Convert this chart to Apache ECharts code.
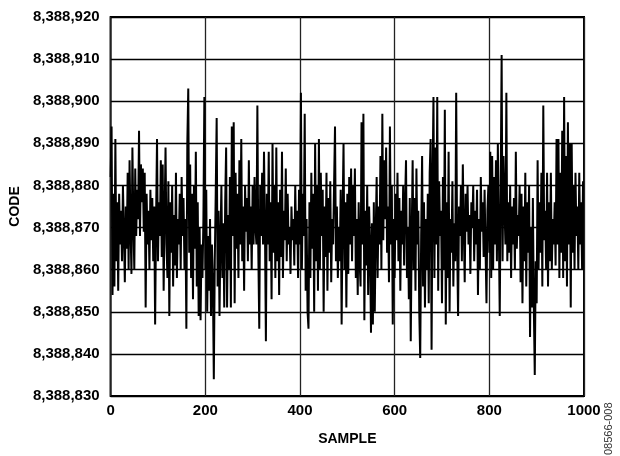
<!DOCTYPE html>
<html>
<head>
<meta charset="utf-8">
<script src="https://cdn.jsdelivr.net/npm/echarts@6/dist/echarts.min.js"></script>
<style>
html,body{margin:0;padding:0;background:#fff;}
#chart{width:620px;height:456px;}
</style>
</head>
<body>
<div id="chart"></div>
<script>
// Sample spacing of stored readings (every 2nd sample)
const sampleStep = 2;
const xTicks = [0, 200, 400, 600, 800, 1000];
const yTicks = [8388830, 8388840, 8388850, 8388860, 8388870, 8388880, 8388890, 8388900, 8388910, 8388920];
const codes = [
// 0-98
8388882,8388894,8388854,8388878,8388856,8388891,8388862,8388876,8388855,8388878,
8388866,8388874,8388862,8388880,8388869,8388857,8388875,8388865,8388883,8388860,
8388886,8388870,8388859,8388889,8388872,8388860,8388884,8388868,8388879,8388872,
8388893,8388868,8388885,8388876,8388884,8388869,8388883,8388851,8388878,8388866,
8388874,8388860,8388879,8388867,8388877,8388862,8388875,8388847,8388872,8388891,
// 100-198
8388862,8388876,8388868,8388886,8388863,8388885,8388855,8388873,8388889,8388866,
8388858,8388881,8388849,8388876,8388864,8388880,8388856,8388873,8388861,8388883,
8388858,8388872,8388866,8388878,8388860,8388882,8388868,8388877,8388860,8388872,
8388846,8388890,8388903,8388864,8388885,8388858,8388878,8388853,8388880,8388865,
8388888,8388856,8388876,8388849,8388870,8388848,8388866,8388858,8388872,8388901,
// 200-298
8388860,8388879,8388850,8388868,8388855,8388872,8388849,8388866,8388857,8388834,
8388862,8388878,8388896,8388856,8388874,8388849,8388867,8388880,8388858,8388871,
8388851,8388876,8388889,8388851,8388873,8388860,8388882,8388851,8388894,8388868,
8388895,8388852,8388883,8388865,8388878,8388858,8388886,8388866,8388891,8388862,
8388875,8388855,8388880,8388869,8388877,8388862,8388886,8388866,8388875,8388860,
// 300-398
8388880,8388866,8388882,8388870,8388866,8388899,8388864,8388846,8388880,8388868,
8388883,8388866,8388888,8388870,8388843,8388878,8388866,8388888,8388862,8388876,
8388853,8388890,8388864,8388880,8388858,8388889,8388862,8388876,8388854,8388879,
8388863,8388888,8388858,8388874,8388867,8388884,8388862,8388878,8388866,8388870,
8388859,8388875,8388867,8388872,8388861,8388880,8388866,8388874,8388858,8388879,
// 400-498
8388866,8388902,8388860,8388878,8388868,8388897,8388855,8388872,8388850,8388846,
8388876,8388858,8388883,8388865,8388878,8388850,8388890,8388862,8388880,8388855,
8388891,8388860,8388883,8388868,8388879,8388850,8388875,8388863,8388883,8388855,
8388877,8388864,8388881,8388857,8388872,8388866,8388880,8388894,8388862,8388875,
8388858,8388870,8388862,8388879,8388847,8388873,8388890,8388860,8388876,8388851,
// 500-598
8388878,8388859,8388882,8388866,8388884,8388862,8388880,8388868,8388884,8388858,
8388872,8388854,8388876,8388862,8388856,8388895,8388866,8388897,8388848,8388874,
8388861,8388880,8388854,8388875,8388866,8388845,8388871,8388847,8388876,8388850,
8388869,8388882,8388858,8388875,8388866,8388887,8388860,8388897,8388867,8388886,
8388872,8388889,8388864,8388875,8388857,8388894,8388866,8388880,8388847,8388872,
// 600-698
8388858,8388878,8388867,8388883,8388862,8388877,8388855,8388874,8388866,8388880,
8388861,8388876,8388886,8388858,8388870,8388853,8388877,8388843,8388868,8388886,
8388860,8388877,8388855,8388884,8388866,8388874,8388850,8388839,8388868,8388887,
8388856,8388876,8388851,8388872,8388860,8388878,8388852,8388883,8388891,8388841,
8388880,8388901,8388858,8388889,8388866,8388901,8388855,8388881,8388868,8388874,
// 700-798
8388852,8388882,8388860,8388898,8388847,8388876,8388858,8388888,8388850,8388872,
8388864,8388881,8388856,8388871,8388862,8388902,8388866,8388849,8388875,8388868,
8388880,8388862,8388885,8388870,8388857,8388878,8388869,8388880,8388866,8388873,
8388859,8388876,8388870,8388880,8388862,8388874,8388866,8388879,8388854,8388872,
8388860,8388882,8388869,8388876,8388863,8388879,8388865,8388852,8388874,8388880,
// 800-898
8388864,8388888,8388858,8388887,8388860,8388882,8388866,8388886,8388862,8388890,
8388870,8388849,8388880,8388911,8388862,8388887,8388875,8388866,8388902,8388862,
8388876,8388864,8388880,8388858,8388875,8388866,8388877,8388860,8388888,8388865,
8388873,8388868,8388880,8388857,8388878,8388852,8388875,8388862,8388883,8388856,
8388876,8388864,8388880,8388844,8388870,8388851,8388877,8388851,8388835,8388862,
// 900-998
8388852,8388886,8388860,8388876,8388864,8388883,8388856,8388899,8388867,8388874,
8388860,8388883,8388856,8388876,8388862,8388883,8388860,8388872,8388866,8388876,
8388861,8388891,8388866,8388891,8388858,8388883,8388864,8388893,8388858,8388901,
8388862,8388887,8388856,8388895,8388866,8388890,8388851,8388890,8388864,8388880,
8388860,8388883,8388868,8388875,8388860,8388883,8388866,8388876,8388860,8388881
];

const fmt = v => String(v).replace(/\B(?=(\d{3})+(?!\d))/g, ',');
const seriesData = codes.map((v, i) => [i * sampleStep, v]);

const chart = echarts.init(document.getElementById('chart'));
const labelFont = {fontFamily: 'Liberation Sans, Arial, sans-serif', fontWeight: 'bold', fontSize: 15, color: '#000'};
chart.setOption({
  animation: false,
  backgroundColor: '#fff',
  grid: {left: 107, right: 36, top: 17, bottom: 60, show: true, borderColor: '#000', borderWidth: 2},
  xAxis: {
    type: 'value', min: xTicks[0], max: xTicks[xTicks.length - 1], interval: 200,
    name: 'SAMPLE', nameLocation: 'middle', nameGap: 36,
    nameTextStyle: Object.assign({}, labelFont, {fontSize: 14}),
    axisLine: {show: false}, axisTick: {show: false},
    axisLabel: Object.assign({}, labelFont, {margin: 7, formatter: v => String(v)}),
    splitLine: {show: true, lineStyle: {color: '#222', width: 1.3}}
  },
  yAxis: {
    type: 'value', min: yTicks[0], max: yTicks[yTicks.length - 1], interval: 10,
    name: 'CODE', nameLocation: 'middle', nameGap: 87, nameRotate: 90,
    nameTextStyle: Object.assign({}, labelFont, {fontSize: 14}),
    axisLine: {show: false}, axisTick: {show: false},
    axisLabel: Object.assign({}, labelFont, {margin: 11, formatter: v => fmt(v)}),
    splitLine: {show: true, lineStyle: {color: '#000', width: 1.3}}
  },
  series: [{
    type: 'line', data: seriesData, showSymbol: false, symbol: 'none',
    lineStyle: {color: '#000', width: 2}, z: 3
  }],
  graphic: [{
    type: 'text', x: 614, y: 455, rotation: Math.PI / 2,
    style: {text: '08566-008', fill: '#333', font: '11px Liberation Sans, Arial, sans-serif',
            textAlign: 'left', textVerticalAlign: 'bottom'}
  }]
});
</script>
</body>
</html>
